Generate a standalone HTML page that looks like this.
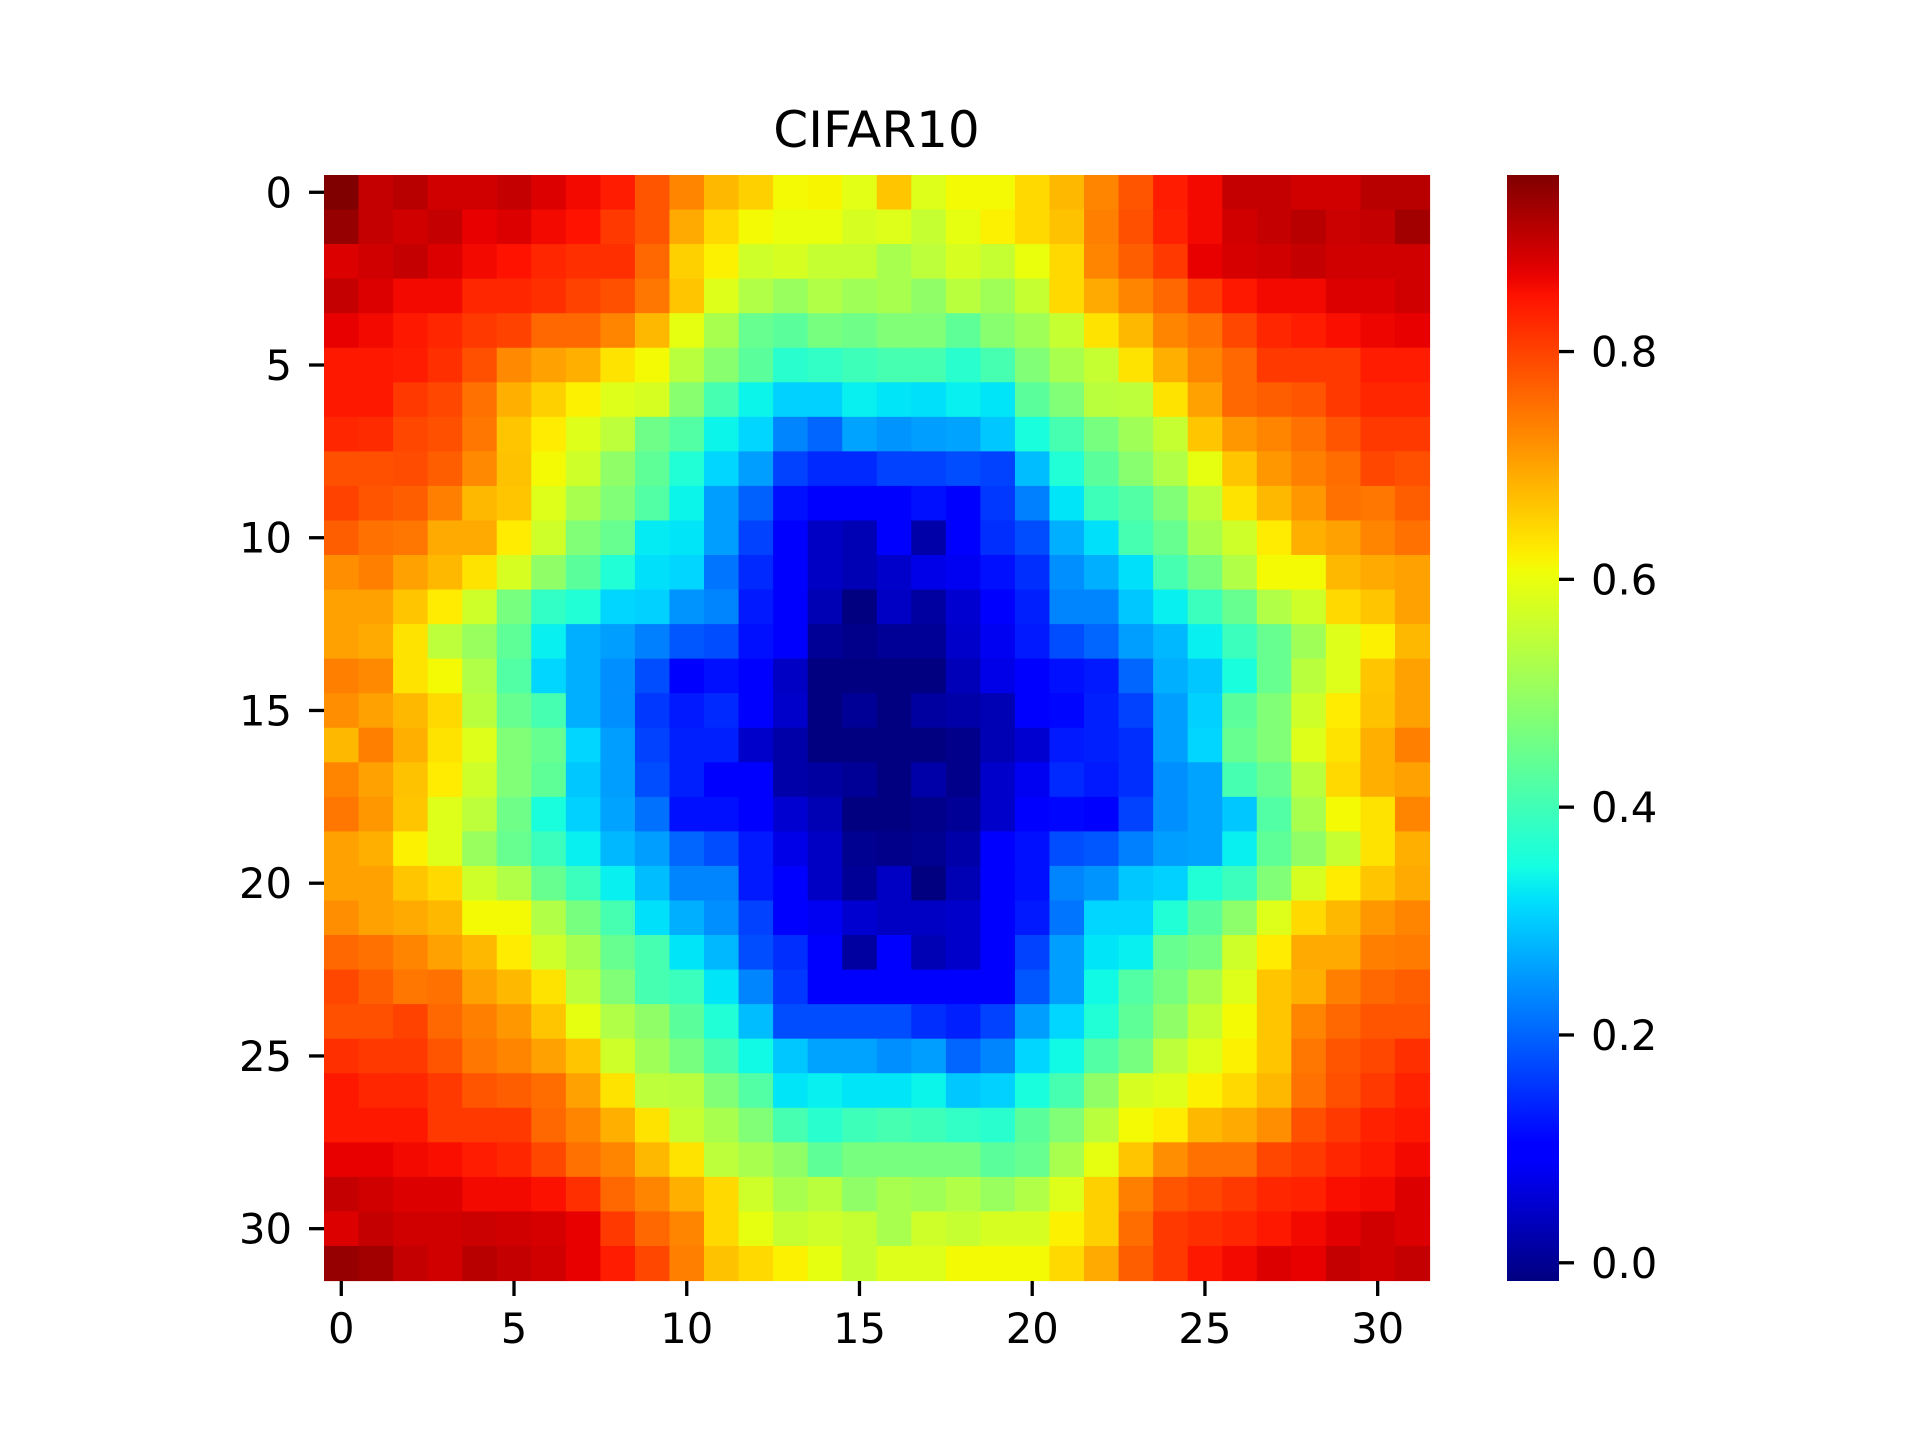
<!DOCTYPE html>
<html>
<head>
<meta charset="utf-8">
<style>
html,body{margin:0;padding:0;background:#fff;}
svg{display:block;}
text{font-family:"DejaVu Sans","Liberation Sans",sans-serif;fill:#000;}
</style>
</head>
<body>
<svg id="chart" width="1920" height="1440" viewBox="0 0 1920 1440" xmlns="http://www.w3.org/2000/svg">
  <rect x="0" y="0" width="1920" height="1440" fill="#fff"/>
  <text x="876.5" y="147" font-size="50" text-anchor="middle">CIFAR10</text>
  <g id="cells"></g>
  <g id="xaxis"></g>
  <g id="yaxis"></g>
  <defs><linearGradient id="jetgrad" x1="0" y1="1" x2="0" y2="0"></linearGradient></defs>
  <rect x="1507" y="175" width="52" height="1106" fill="url(#jetgrad)"/>
  <g id="cbaxis"></g>
</svg>
<script>
const xTicks = [0, 5, 10, 15, 20, 25, 30];
const yTicks = [0, 5, 10, 15, 20, 25, 30];
const cbTicks = [0.0, 0.2, 0.4, 0.6, 0.8];
const cbTickLabels = ["0.0", "0.2", "0.4", "0.6", "0.8"];
const cbMin = -0.016;
const cbMax = 0.955;
const values = [
[1.0,.94,.95,.93,.93,.94,.92,.9,.88,.82,.77,.715,.69,.645,.65,.625, .7,.62,.645,.645,.68,.715,.77,.82,.88,.9,.94,.94,.93,.93,.95,.95],
[.98,.94,.93,.94,.91,.92,.9,.89,.85,.82,.73,.68,.645,.635,.635,.61, .62,.59,.63,.655,.68,.705,.775,.825,.875,.9,.93,.94,.95,.935,.94,.97],
[.92,.93,.94,.92,.9,.89,.87,.86,.86,.8,.69,.655,.6,.61,.59,.59, .555,.58,.61,.59,.635,.68,.77,.81,.85,.91,.925,.93,.94,.93,.93,.93],
[.94,.92,.9,.9,.87,.87,.86,.84,.825,.785,.7,.62,.565,.535,.565,.545, .555,.525,.575,.545,.59,.68,.73,.77,.8,.85,.885,.9,.9,.92,.92,.93],
[.91,.9,.885,.87,.85,.84,.8,.8,.77,.715,.63,.555,.475,.46,.495,.485, .505,.505,.465,.515,.545,.59,.67,.715,.77,.79,.835,.87,.88,.895,.905,.91],
[.885,.885,.88,.86,.825,.765,.74,.725,.67,.645,.575,.515,.46,.4,.41,.425, .435,.435,.4,.435,.505,.555,.59,.67,.725,.77,.8,.85,.85,.85,.88,.88],
[.885,.885,.85,.835,.79,.725,.69,.655,.62,.61,.515,.435,.365,.33,.33,.36, .35,.345,.36,.35,.46,.505,.575,.58,.67,.74,.8,.81,.82,.85,.87,.87],
[.87,.865,.835,.825,.785,.7,.66,.62,.58,.485,.45,.365,.335,.255,.225,.285, .27,.28,.285,.32,.38,.435,.495,.545,.59,.7,.75,.77,.79,.82,.85,.85],
[.825,.825,.83,.81,.765,.705,.645,.6,.525,.465,.39,.335,.28,.19,.165,.165, .19,.19,.2,.19,.31,.39,.46,.515,.565,.63,.7,.75,.775,.795,.835,.825],
[.84,.82,.81,.775,.715,.7,.62,.555,.505,.45,.365,.28,.22,.14,.12,.12, .12,.14,.12,.18,.25,.35,.425,.45,.505,.58,.67,.715,.75,.79,.785,.81],
[.81,.79,.785,.73,.73,.66,.6,.505,.475,.355,.35,.28,.19,.12,.06,.045, .12,.035,.12,.17,.2,.297,.345,.435,.475,.555,.6,.66,.725,.74,.77,.79],
[.76,.775,.74,.715,.67,.61,.525,.46,.39,.345,.335,.24,.165,.12,.06,.045, .065,.09,.1,.14,.17,.265,.297,.345,.435,.495,.565,.645,.645,.715,.73,.74],
[.74,.74,.7,.66,.6,.495,.41,.39,.335,.33,.27,.255,.15,.12,.045,.0, .06,.028,.07,.12,.155,.255,.255,.32,.36,.42,.475,.565,.6,.68,.7,.74],
[.74,.73,.67,.58,.535,.465,.36,.297,.28,.25,.21,.2,.14,.12,.02,.01, .02,.02,.065,.1,.15,.2,.225,.28,.305,.36,.42,.475,.545,.62,.655,.715],
[.775,.765,.67,.645,.565,.45,.335,.297,.265,.2,.12,.14,.11,.06,.0,.0, .0,.0,.05,.09,.12,.14,.15,.225,.297,.32,.38,.475,.575,.62,.7,.74],
[.76,.74,.715,.68,.575,.475,.435,.297,.265,.18,.15,.165,.11,.065,.0,.02, .0,.028,.035,.045,.11,.13,.155,.19,.28,.33,.46,.505,.6,.66,.705,.74],
[.715,.775,.725,.67,.62,.505,.475,.335,.28,.19,.155,.155,.065,.035,.0,.0, .0,.0,.01,.045,.07,.15,.155,.17,.28,.335,.475,.505,.62,.67,.725,.775],
[.77,.74,.705,.66,.6,.505,.465,.32,.28,.2,.155,.12,.11,.035,.028,.02, .0,.035,.01,.065,.1,.165,.15,.17,.265,.285,.435,.475,.575,.68,.725,.74],
[.785,.75,.7,.62,.58,.485,.38,.33,.285,.235,.14,.14,.115,.07,.045,.0, .0,.01,.02,.065,.115,.13,.12,.19,.265,.285,.32,.45,.555,.645,.67,.77],
[.74,.725,.655,.62,.535,.475,.42,.36,.305,.28,.225,.2,.15,.09,.06,.015, .01,.015,.035,.12,.14,.2,.21,.25,.28,.285,.36,.465,.525,.59,.67,.725],
[.74,.74,.7,.68,.6,.565,.475,.42,.36,.31,.255,.255,.15,.12,.06,.02, .06,.0,.045,.12,.14,.255,.27,.32,.33,.39,.42,.505,.61,.66,.7,.73],
[.76,.74,.73,.715,.645,.645,.565,.495,.435,.345,.297,.265,.19,.12,.1,.07, .06,.06,.065,.12,.15,.24,.335,.335,.39,.46,.52,.62,.68,.715,.75,.77],
[.8,.79,.77,.74,.715,.66,.6,.555,.475,.435,.35,.305,.2,.17,.12,.028, .12,.045,.065,.12,.19,.28,.35,.36,.475,.495,.6,.66,.73,.73,.775,.78],
[.835,.81,.785,.79,.74,.715,.67,.58,.505,.435,.42,.35,.255,.18,.12,.12, .12,.12,.12,.12,.21,.28,.37,.45,.495,.555,.62,.7,.725,.775,.8,.81],
[.825,.825,.84,.8,.775,.75,.7,.63,.565,.525,.46,.39,.31,.2,.2,.2, .2,.17,.155,.19,.28,.335,.39,.465,.525,.59,.645,.7,.77,.8,.82,.82],
[.86,.85,.85,.82,.785,.77,.74,.7,.6,.545,.495,.435,.37,.32,.285,.285, .265,.28,.225,.255,.335,.37,.45,.495,.58,.62,.655,.7,.785,.82,.835,.86],
[.885,.87,.87,.85,.82,.81,.795,.74,.67,.58,.575,.505,.45,.35,.36,.35, .35,.365,.32,.33,.38,.435,.525,.61,.62,.655,.68,.715,.79,.825,.85,.875],
[.885,.885,.885,.85,.85,.85,.8,.77,.725,.67,.59,.555,.505,.435,.4,.425, .435,.425,.41,.4,.46,.505,.575,.645,.66,.715,.73,.76,.825,.85,.875,.885],
[.91,.91,.9,.895,.88,.87,.835,.79,.77,.715,.67,.58,.555,.525,.465,.495, .495,.495,.495,.46,.475,.555,.63,.7,.76,.79,.79,.835,.85,.87,.885,.9],
[.94,.93,.92,.92,.9,.9,.893,.86,.8,.77,.725,.68,.6,.555,.575,.525, .555,.545,.565,.535,.565,.62,.69,.775,.82,.835,.85,.87,.875,.895,.9,.92],
[.92,.94,.93,.93,.935,.93,.925,.91,.85,.8,.77,.68,.63,.59,.6,.59, .555,.6,.59,.61,.61,.655,.69,.795,.85,.86,.87,.885,.9,.915,.93,.92],
[.98,.97,.94,.93,.95,.94,.93,.91,.88,.835,.775,.705,.68,.655,.63,.59, .62,.62,.645,.645,.645,.68,.73,.81,.85,.885,.9,.92,.91,.94,.93,.94]
];

const NS = "http://www.w3.org/2000/svg";
const X0 = 324, Y0 = 175, SIZE = 1105.5, N = values.length;
const CELL = SIZE / N;
const CB_TOP = 175, CB_BOT = 1281;
function xPos(i){ return X0 + i * CELL; }
function yPos(j){ return Y0 + j * CELL; }
function cbY(v){ return CB_BOT - (v - cbMin) / (cbMax - cbMin) * (CB_BOT - CB_TOP); }
function interp(pts, t){
  for (let k = 1; k < pts.length; k++){
    if (t <= pts[k][0]){
      const a = pts[k-1], b = pts[k];
      return a[1] + (b[1]-a[1]) * (t - a[0]) / (b[0]-a[0]);
    }
  }
  return pts[pts.length-1][1];
}
const JR = [[0,0],[0.35,0],[0.66,1],[0.89,1],[1,0.5]];
const JG = [[0,0],[0.125,0],[0.375,1],[0.64,1],[0.91,0],[1,0]];
const JB = [[0,0.5],[0.11,1],[0.34,1],[0.65,0],[1,0]];
function jet(t){
  t = Math.max(0, Math.min(1, t));
  const c = v => Math.round(255 * v);
  return "rgb(" + c(interp(JR,t)) + "," + c(interp(JG,t)) + "," + c(interp(JB,t)) + ")";
}

const cells = document.getElementById("cells");
for (let r = 0; r < N; r++){
  for (let c = 0; c < N; c++){
    const rect = document.createElementNS(NS, "rect");
    rect.setAttribute("x", xPos(c).toFixed(2));
    rect.setAttribute("y", yPos(r).toFixed(2));
    rect.setAttribute("width", (CELL + 0.6).toFixed(2));
    rect.setAttribute("height", (CELL + 0.6).toFixed(2));
    rect.setAttribute("fill", jet(values[r][c]));
    
    
    cells.appendChild(rect);
  }
}

const xaxis = document.getElementById("xaxis");
xTicks.forEach(v => {
  const x = xPos(v + 0.5);
  const ln = document.createElementNS(NS, "line");
  ln.setAttribute("x1", x); ln.setAttribute("x2", x);
  ln.setAttribute("y1", 1281); ln.setAttribute("y2", 1296);
  ln.setAttribute("stroke", "#000"); ln.setAttribute("stroke-width", "3.3");
  
  
  xaxis.appendChild(ln);
  const tx = document.createElementNS(NS, "text");
  tx.setAttribute("x", x); tx.setAttribute("y", 1343);
  tx.setAttribute("font-size", "41.7"); tx.setAttribute("text-anchor", "middle");
  tx.textContent = String(v);
  
  
  xaxis.appendChild(tx);
});

const yaxis = document.getElementById("yaxis");
yTicks.forEach(v => {
  const y = yPos(v + 0.5);
  const ln = document.createElementNS(NS, "line");
  ln.setAttribute("x1", 309); ln.setAttribute("x2", 324);
  ln.setAttribute("y1", y); ln.setAttribute("y2", y);
  ln.setAttribute("stroke", "#000"); ln.setAttribute("stroke-width", "3.3");
  
  
  yaxis.appendChild(ln);
  const tx = document.createElementNS(NS, "text");
  tx.setAttribute("x", 292); tx.setAttribute("y", y + 15);
  tx.setAttribute("font-size", "41.7"); tx.setAttribute("text-anchor", "end");
  tx.textContent = String(v);
  
  
  yaxis.appendChild(tx);
});

const grad = document.getElementById("jetgrad");
for (let k = 0; k <= 64; k++){
  const s = document.createElementNS(NS, "stop");
  s.setAttribute("offset", (k / 64).toFixed(4));
  s.setAttribute("stop-color", jet(k / 64));
  grad.appendChild(s);
}

const cbaxis = document.getElementById("cbaxis");
cbTicks.forEach((v, i) => {
  const y = cbY(v);
  const ln = document.createElementNS(NS, "line");
  ln.setAttribute("x1", 1559); ln.setAttribute("x2", 1574);
  ln.setAttribute("y1", y); ln.setAttribute("y2", y);
  ln.setAttribute("stroke", "#000"); ln.setAttribute("stroke-width", "3.3");
  
  
  cbaxis.appendChild(ln);
  const tx = document.createElementNS(NS, "text");
  tx.setAttribute("x", 1591); tx.setAttribute("y", y + 15);
  tx.setAttribute("font-size", "41.7");
  tx.textContent = cbTickLabels[i];
  
  
  cbaxis.appendChild(tx);
});
</script>
</body>
</html>
